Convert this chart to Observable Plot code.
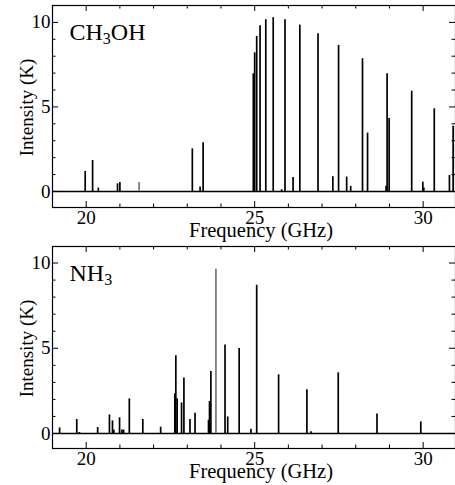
<!DOCTYPE html>
<html><head><meta charset="utf-8">
<script src="https://cdn.jsdelivr.net/npm/d3@7"></script>
<script src="https://cdn.jsdelivr.net/npm/@observablehq/plot@0.6"></script>
<style>html,body{margin:0;padding:0;background:#fff} svg{display:block} svg text{font-family:'Liberation Serif','Times New Roman',Times,serif}</style>
</head><body><div id="chart"></div>
<script>
// CH3OH spectrum
const ch3ohFreq = [19.97, 20.19, 20.36, 20.93, 21.00, 21.57, 23.15, 23.38, 23.47, 24.96, 25.00, 25.06, 25.16, 25.33, 25.55, 25.80, 25.90, 26.14, 26.34, 26.88, 27.32, 27.49, 27.73, 27.85, 28.20, 28.35, 28.90, 28.93, 28.99, 29.66, 29.99, 30.02, 30.33, 30.78, 30.89];
const ch3ohInt  = [1.18, 1.83, 0.2, 0.45, 0.53, 0.53, 2.52, 0.26, 2.88, 6.96, 8.2, 9.17, 9.8, 10.16, 10.28, 0.1, 10.16, 0.83, 9.84, 9.33, 0.87, 8.64, 0.85, 0.3, 7.85, 3.45, 0.3, 6.96, 4.32, 5.93, 0.55, 0.2, 4.89, 0.95, 3.85];
const ch3ohGray = [21.57];
// NH3 spectrum
const nh3Freq = [19.21, 19.72, 19.80, 20.34, 20.69, 20.78, 20.82, 20.99, 21.06, 21.11, 21.28, 21.68, 22.21, 22.63, 22.66, 22.70, 22.83, 22.90, 23.08, 23.23, 23.63, 23.66, 23.70, 23.85, 24.12, 24.20, 24.54, 24.89, 25.06, 25.71, 26.55, 26.67, 27.48, 28.63, 29.93];
const nh3Int  = [0.33, 0.82, 0.06, 0.35, 1.09, 0.74, 0.2, 0.92, 0.2, 0.2, 2.03, 0.82, 0.37, 2.33, 4.56, 2.03, 1.79, 3.26, 0.82, 1.19, 0.78, 1.88, 3.63, 9.63, 5.19, 0.97, 4.99, 0.25, 8.7, 3.44, 2.57, 0.1, 3.56, 1.15, 0.68];
const nh3Gray = [23.85];
// axes
const xMajor = [20, 25, 30];
const xMinor = [21, 22, 23, 24, 26, 27, 28, 29];
const yMajor = [0, 5, 10];
const yMinor = [1, 2, 3, 4, 6, 7, 8, 9];
const xLabel = "Frequency (GHz)";
const yLabel = "Intensity (K)";
const ch3ohName = ["CH", "3", "OH"];
const nh3Name = ["NH", "3", ""];

const W = 455, ML = 52, MR = 0;
const FONT = "Liberation Serif";

function panel({freq, inten, gray, name, yDomain, height, marginTop, marginBottom}) {
  const rows = freq.map((f, i) => ({f, v: inten[i]}));
  const FH = height - marginTop - marginBottom;
  const FW = W - ML - MR;
  const maj = 6, min = 3.5;
  const svg = Plot.plot({
    width: W, height, marginLeft: ML, marginRight: MR, marginTop, marginBottom,
    x: {domain: [19, 30.96]},
    y: {domain: yDomain},
    style: {fontFamily: FONT, fontSize: "19px", color: "black", background: "white", overflow: "visible"},
    marks: [
      Plot.ruleY([0], {stroke: "black", strokeWidth: 1.6}),
      Plot.ruleX(rows, {x: "f", y1: 0, y2: "v", stroke: d => gray.includes(d.f) ? "#777" : "black", strokeWidth: 1.7}),
      Plot.frame({stroke: "black", strokeWidth: 1.2}),
      Plot.tickX(xMajor, {x: d => d, insetTop: FH - maj, stroke: "black"}),
      Plot.tickX(xMinor, {x: d => d, insetTop: FH - min, stroke: "black"}),
      Plot.tickX(xMajor, {x: d => d, insetBottom: FH - maj, stroke: "black"}),
      Plot.tickX(xMinor, {x: d => d, insetBottom: FH - min, stroke: "black"}),
      Plot.tickY(yMajor, {y: d => d, insetRight: FW - maj, stroke: "black"}),
      Plot.tickY(yMinor, {y: d => d, insetRight: FW - min, stroke: "black"}),
      Plot.tickY(yMajor, {y: d => d, insetLeft: FW - maj, stroke: "black"}),
      Plot.tickY(yMinor, {y: d => d, insetLeft: FW - min, stroke: "black"}),
      Plot.axisX(xMajor, {tickSize: 0, tickPadding: 3, label: null, fontSize: 19, fontFamily: FONT}),
      Plot.axisY(yMajor, {tickSize: 0, tickPadding: 2, label: null, fontSize: 19, fontFamily: FONT}),
      Plot.text([xLabel], {frameAnchor: "bottom", textAnchor: "middle", lineAnchor: "middle", dx: 7, dy: 23, fontSize: 20.5, fontFamily: FONT, fill: "black"}),
      Plot.text([yLabel], {frameAnchor: "left", textAnchor: "middle", lineAnchor: "middle", rotate: -90, dx: -26, dy: 1, fontSize: 19, fontFamily: FONT, fill: "black"}),
      Plot.text([name.join("")], {frameAnchor: "top-left", dx: 17, dy: 17, lineAnchor: "top", textAnchor: "start", fontSize: 24, fontFamily: FONT, fill: "black"})
    ]
  });
  // render the chemical subscript
  d3.select(svg).selectAll("text").filter(function() { return this.textContent === name.join(""); })
    .each(function() {
      const t = d3.select(this);
      t.text(null);
      t.append("tspan").text(name[0]);
      t.append("tspan").attr("font-size", 16).attr("dy", 4.5).text(name[1]);
      if (name[2]) t.append("tspan").attr("dy", -4.5).text(name[2]);
    });
  return svg;
}

const chart = document.getElementById("chart");
chart.appendChild(panel({freq: ch3ohFreq, inten: ch3ohInt, gray: ch3ohGray, name: ch3ohName,
  yDomain: [-0.95, 11], height: 243, marginTop: 5, marginBottom: 36}));
chart.appendChild(panel({freq: nh3Freq, inten: nh3Int, gray: nh3Gray, name: nh3Name,
  yDomain: [-0.88, 10.97], height: 242, marginTop: 3, marginBottom: 37}));
</script>
</body></html>
